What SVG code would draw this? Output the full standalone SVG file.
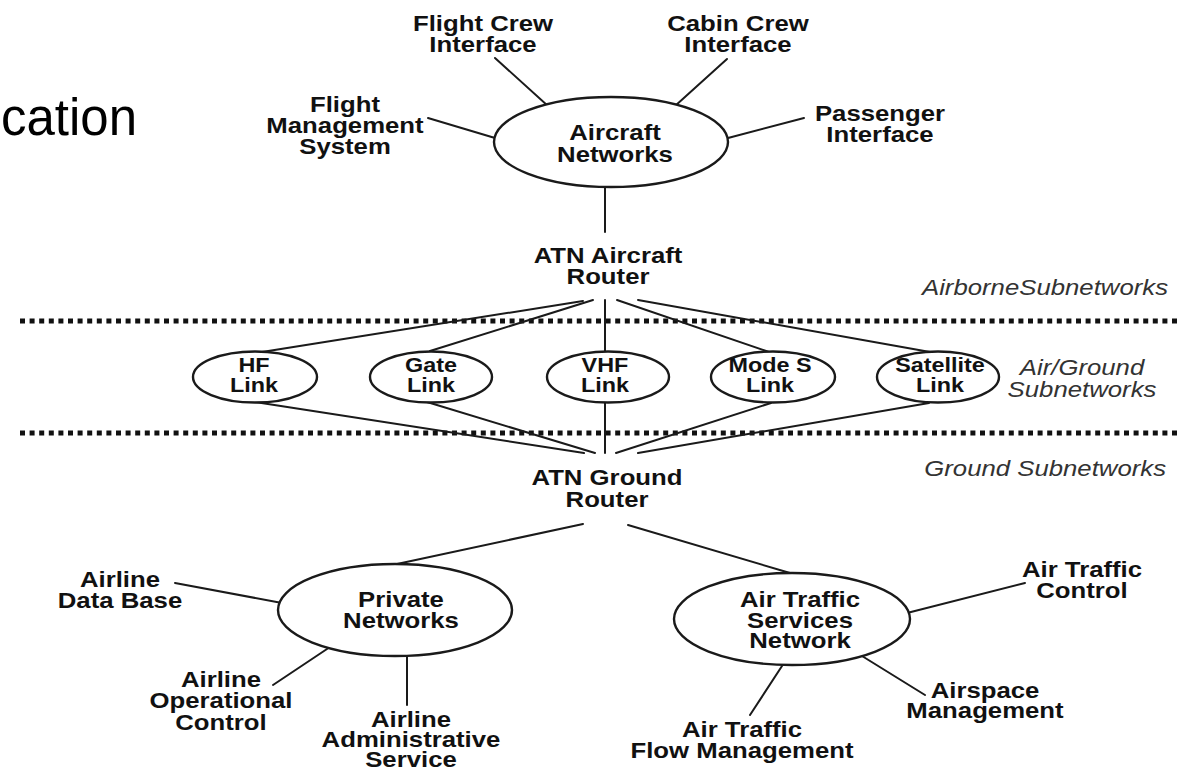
<svg xmlns="http://www.w3.org/2000/svg" width="1184" height="771" viewBox="0 0 1184 771">
<style>
.b{font-family:"Liberation Sans",Arial,Helvetica,sans-serif;font-weight:bold;font-size:22px;text-anchor:middle;fill:#111}
.s{font-size:20px}
.it{font-family:"Liberation Sans",Arial,Helvetica,sans-serif;font-style:italic;font-size:22px;fill:#333}
.ln{stroke:#1a1a1a;stroke-width:2;fill:none;stroke-linecap:round}
.el{fill:#fff;stroke:#1a1a1a;stroke-width:2.4}
.dot{stroke:#111;stroke-width:5;stroke-dasharray:5 4.6;fill:none}
.t{font-family:"Liberation Sans",Arial,Helvetica,sans-serif;font-size:51px;fill:#000}
</style>
<rect width="1184" height="771" fill="#fff"/>
<g id="title-fragment"><text class="t" x="1" y="135">cation</text></g>

<g id="separators">
<line class="dot" x1="20" y1="321" x2="1178" y2="321"/>
<line class="dot" x1="20" y1="433" x2="1178" y2="433"/>
</g>

<g id="connectors">
<line class="ln" x1="495" y1="58" x2="548" y2="106"/>
<line class="ln" x1="727" y1="59" x2="675" y2="106"/>
<line class="ln" x1="428" y1="118" x2="495" y2="138"/>
<line class="ln" x1="804" y1="118" x2="728" y2="138"/>
<line class="ln" x1="605" y1="187" x2="605" y2="232"/>
<line class="ln" x1="583" y1="301" x2="262" y2="352"/>
<line class="ln" x1="593" y1="300" x2="430" y2="351"/>
<line class="ln" x1="605" y1="300" x2="605" y2="351"/>
<line class="ln" x1="617" y1="300" x2="769" y2="352"/>
<line class="ln" x1="638" y1="300" x2="930" y2="352"/>
<line class="ln" x1="255" y1="402" x2="584" y2="453"/>
<line class="ln" x1="427" y1="402" x2="595" y2="453"/>
<line class="ln" x1="605" y1="402" x2="605" y2="453"/>
<line class="ln" x1="771" y1="403" x2="616" y2="453"/>
<line class="ln" x1="929" y1="403" x2="638" y2="453"/>
<line class="ln" x1="583" y1="524" x2="397" y2="564"/>
<line class="ln" x1="628" y1="525" x2="790" y2="573"/>
<line class="ln" x1="175" y1="583" x2="282" y2="603"/>
<line class="ln" x1="273" y1="685" x2="330" y2="647"/>
<line class="ln" x1="407" y1="657" x2="407" y2="705"/>
<line class="ln" x1="1025" y1="583" x2="907" y2="613"/>
<line class="ln" x1="862" y1="656" x2="925" y2="695"/>
<line class="ln" x1="782" y1="666" x2="750" y2="715"/>
</g>

<g id="n-flight-crew"><text class="b" transform="translate(483 0) scale(1.17 1)"><tspan x="0" y="31">Flight Crew</tspan><tspan x="0" y="52">Interface</tspan></text></g>
<g id="n-cabin-crew"><text class="b" transform="translate(738 0) scale(1.17 1)"><tspan x="0" y="31">Cabin Crew</tspan><tspan x="0" y="52">Interface</tspan></text></g>
<g id="n-fms"><text class="b" transform="translate(345 0) scale(1.17 1)"><tspan x="0" y="112">Flight</tspan><tspan x="0" y="133">Management</tspan><tspan x="0" y="154">System</tspan></text></g>
<g id="n-passenger"><text class="b" transform="translate(880 0) scale(1.17 1)"><tspan x="0" y="121">Passenger</tspan><tspan x="0" y="142">Interface</tspan></text></g>
<g id="n-aircraft-networks"><ellipse class="el" cx="611" cy="142" rx="117" ry="45"/><text class="b" transform="translate(615 0) scale(1.17 1)"><tspan x="0" y="140">Aircraft</tspan><tspan x="0" y="162">Networks</tspan></text></g>
<g id="n-atn-aircraft-router"><text class="b" transform="translate(608 0) scale(1.17 1)"><tspan x="0" y="263">ATN Aircraft</tspan><tspan x="0" y="284">Router</tspan></text></g>

<g id="n-hf"><ellipse class="el" cx="255" cy="377" rx="62" ry="25.5"/><text class="b s" transform="translate(254 0) scale(1.17 1)"><tspan x="0" y="372">HF</tspan><tspan x="0" y="392">Link</tspan></text></g>
<g id="n-gate"><ellipse class="el" cx="431" cy="377" rx="61" ry="25.5"/><text class="b s" transform="translate(431 0) scale(1.17 1)"><tspan x="0" y="372">Gate</tspan><tspan x="0" y="392">Link</tspan></text></g>
<g id="n-vhf"><ellipse class="el" cx="608" cy="377" rx="61" ry="25.5"/><text class="b s" transform="translate(605 0) scale(1.17 1)"><tspan x="0" y="372">VHF</tspan><tspan x="0" y="392">Link</tspan></text></g>
<g id="n-modes"><ellipse class="el" cx="773" cy="377" rx="62" ry="25.5"/><text class="b s" transform="translate(770 0) scale(1.17 1)"><tspan x="0" y="372">Mode S</tspan><tspan x="0" y="392">Link</tspan></text></g>
<g id="n-satellite"><ellipse class="el" cx="938" cy="377" rx="61" ry="25.5"/><text class="b s" transform="translate(940 0) scale(1.17 1)"><tspan x="0" y="372">Satellite</tspan><tspan x="0" y="392">Link</tspan></text></g>

<g id="n-atn-ground-router"><text class="b" transform="translate(607 0) scale(1.17 1)"><tspan x="0" y="485">ATN Ground</tspan><tspan x="0" y="507">Router</tspan></text></g>

<g id="layer-labels">
<text class="it" text-anchor="end" transform="translate(1168 0) scale(1.17 1)" x="0" y="295">AirborneSubnetworks</text>
<text class="it" text-anchor="middle" transform="translate(1082 0) scale(1.17 1)"><tspan x="0" y="375">Air/Ground</tspan><tspan x="0" y="397">Subnetworks</tspan></text>
<text class="it" text-anchor="end" transform="translate(1166 0) scale(1.17 1)" x="0" y="476">Ground Subnetworks</text>
</g>

<g id="n-private-networks"><ellipse class="el" cx="395" cy="610" rx="117" ry="46"/><text class="b" transform="translate(401 0) scale(1.17 1)"><tspan x="0" y="607">Private</tspan><tspan x="0" y="628">Networks</tspan></text></g>
<g id="n-airline-db"><text class="b" transform="translate(120 0) scale(1.17 1)"><tspan x="0" y="587">Airline</tspan><tspan x="0" y="608">Data Base</tspan></text></g>
<g id="n-airline-oc"><text class="b" transform="translate(221 0) scale(1.17 1)"><tspan x="0" y="687">Airline</tspan><tspan x="0" y="708">Operational</tspan><tspan x="0" y="730">Control</tspan></text></g>
<g id="n-airline-as"><text class="b" transform="translate(411 0) scale(1.17 1)"><tspan x="0" y="727">Airline</tspan><tspan x="0" y="747">Administrative</tspan><tspan x="0" y="767">Service</tspan></text></g>

<g id="n-ats-network"><ellipse class="el" cx="792" cy="619" rx="118" ry="46"/><text class="b" transform="translate(800 0) scale(1.17 1)"><tspan x="0" y="607">Air Traffic</tspan><tspan x="0" y="628">Services</tspan><tspan x="0" y="648">Network</tspan></text></g>
<g id="n-atc"><text class="b" transform="translate(1082 0) scale(1.17 1)"><tspan x="0" y="577">Air Traffic</tspan><tspan x="0" y="598">Control</tspan></text></g>
<g id="n-airspace"><text class="b" transform="translate(985 0) scale(1.17 1)"><tspan x="0" y="698">Airspace</tspan><tspan x="0" y="718">Management</tspan></text></g>
<g id="n-atfm"><text class="b" transform="translate(742 0) scale(1.17 1)"><tspan x="0" y="737">Air Traffic</tspan><tspan x="0" y="758">Flow Management</tspan></text></g>
</svg>
